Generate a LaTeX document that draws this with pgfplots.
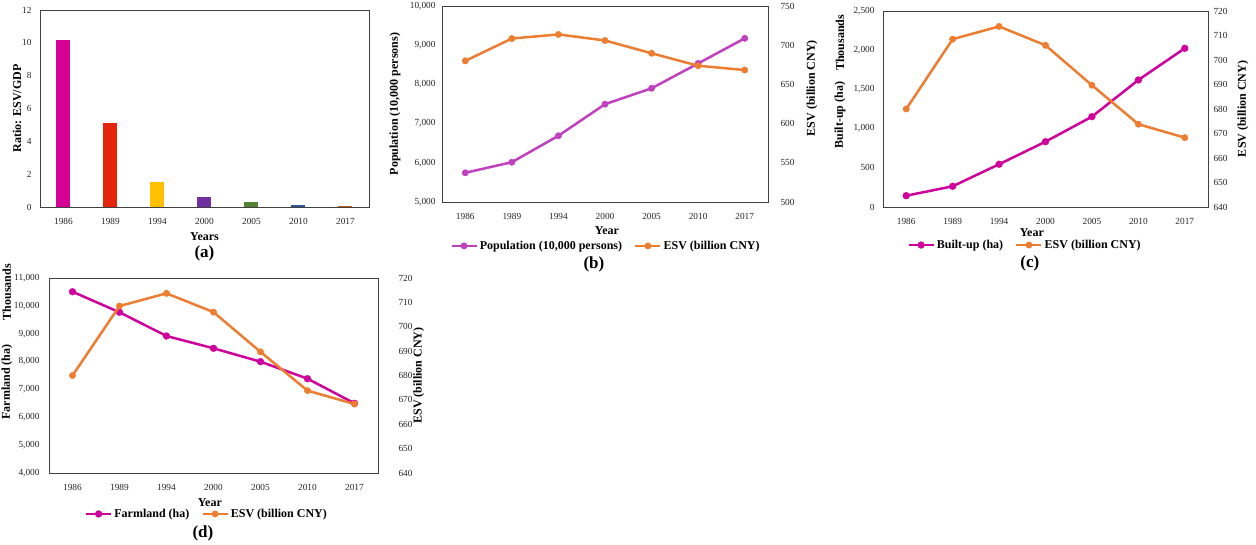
\documentclass[border=0pt]{standalone}
\usepackage{pgfplots}
\pgfplotsset{compat=1.18}
\usepackage{fontspec}
\setmainfont{Liberation Serif}
\definecolor{pop}{RGB}{192,64,192}
\definecolor{mag}{RGB}{207,0,155}
\definecolor{esv}{RGB}{237,125,49}
\definecolor{b1}{RGB}{214,0,150}
\definecolor{b2}{RGB}{230,36,12}
\definecolor{b3}{RGB}{255,192,0}
\definecolor{b4}{RGB}{112,48,160}
\definecolor{b5}{RGB}{84,130,53}
\definecolor{b6}{RGB}{47,85,151}
\definecolor{b7}{RGB}{197,90,17}
\definecolor{frame}{RGB}{64,64,64}
\tikzset{
  panel/.style={font=\bfseries\fontsize{17}{20}\selectfont},
  lab/.style={font=\bfseries\fontsize{12}{14}\selectfont},
}
\pgfplotsset{
  base/.style={
    scale only axis,
    xmin=-0.5, xmax=6.5,
    xtick={0,...,6},
    xticklabels={1986,1989,1994,2000,2005,2010,2017},
    major tick length=0pt,
    tick style={draw=none},
    axis line style={draw=frame, line width=0.8pt},
    ticklabel style={font=\fontsize{9.3}{10}\selectfont, text=black!85},
    xticklabel style={yshift=-8pt},
    /pgf/number format/assume math mode=true,
    scaled y ticks=false,
    label style={font=\bfseries\fontsize{12}{14}\selectfont},
    legend style={draw=none, fill=none, font=\bfseries\fontsize{12}{14}\selectfont,
      legend columns=2, /tikz/every even column/.append style={column sep=10pt},
      inner sep=0pt, row sep=0pt},
    legend image code/.code={\draw[mark repeat=2,mark phase=2,##1] plot coordinates {(0pt,0pt) (12.5pt,0pt) (25pt,0pt)};},
    clip=false,
  },
  sec/.style={base, axis y line*=right, axis x line=none},
  esvline/.style={color=esv, line width=2.5pt, mark=*, mark size=3.2pt, mark options={solid, fill=esv, draw=esv, line width=0.4pt}},
  popline/.style={color=pop, line width=2.5pt, mark=*, mark size=3.2pt, mark options={solid, fill=pop, draw=pop, line width=0.4pt}},
  magline/.style={color=mag, line width=2.5pt, mark=*, mark size=3.4pt, mark options={solid, fill=mag, draw=mag, line width=0.4pt}},
}
\begin{document}
\begin{tikzpicture}
\useasboundingbox (0,0) rectangle (1256pt,545pt);
\fill[white] (0,0) rectangle (1256pt,545pt);

% ---------------- (a)
\begin{axis}[base, at={(40pt,338pt)}, anchor=south west, width=329pt, height=197pt,
  ymin=0, ymax=12, ytick={0,2,...,12},
  yticklabel style={xshift=-5pt},
  ybar, bar width=14pt, bar shift=0pt,
  xlabel={Years}, xlabel style={at={(axis description cs:0.5,-0.152)}, anchor=center},
  ylabel={Ratio: ESV/GDP}, ylabel style={at={(axis description cs:-0.07,0.5)}, anchor=center}]
\addplot[fill=b1, draw=none] coordinates {(0,10.2)};
\addplot[fill=b2, draw=none] coordinates {(1,5.1)};
\addplot[fill=b3, draw=none] coordinates {(2,1.54)};
\addplot[fill=b4, draw=none] coordinates {(3,0.63)};
\addplot[fill=b5, draw=none] coordinates {(4,0.28)};
\addplot[fill=b6, draw=none] coordinates {(5,0.14)};
\addplot[fill=b7, draw=none] coordinates {(6,0.06)};
\node[panel] at (axis description cs:0.5,-0.2335) {(a)};
\end{axis}

% ---------------- (b)
\begin{axis}[base, at={(442pt,343pt)}, anchor=south west, width=326pt, height=196pt,
  ymin=5000, ymax=10000, ytick={5000,6000,...,10000},
  yticklabel style={xshift=-3pt},
  xlabel={Year}, xlabel style={at={(axis description cs:0.506,-0.148)}, anchor=center},
  ylabel={Population (10,000 persons)}, ylabel style={at={(axis description cs:-0.144,0.5)}, anchor=center}]
\addplot[popline] coordinates {(0,5745) (1,6015) (2,6690) (3,7495) (4,7900) (5,8535) (6,9175)};
\end{axis}
\begin{axis}[sec, at={(442pt,343pt)}, anchor=south west, width=326pt, height=196pt,
  ymin=500, ymax=750, ytick={500,550,...,750},
  yticklabel style={xshift=9pt},
  ylabel={ESV (billion CNY)}, ylabel style={at={(axis description cs:1.135,0.58)}, anchor=center, rotate=0},
  legend style={at={(axis description cs:0.503,-0.224)}, anchor=center}]
\addlegendimage{popline}
\addlegendentry{Population (10,000 persons)}
\addplot[esvline] coordinates {(0,680) (1,708.5) (2,713.7) (3,706) (4,689.7) (5,673.8) (6,668.3)};
\addlegendentry{ESV (billion CNY)}
\node[panel] at (axis description cs:0.466,-0.321) {(b)};
\end{axis}

% ---------------- (c)
\begin{axis}[base, at={(883pt,338pt)}, anchor=south west, width=325pt, height=196pt,
  ymin=0, ymax=2500, ytick={0,500,...,2500},
  yticklabel style={xshift=-5pt},
  xlabel={Year}, xlabel style={at={(axis description cs:0.458,-0.133)}, anchor=center},
  ylabel={Built-up (ha)}, ylabel style={at={(axis description cs:-0.132,0.469)}, anchor=center}]
\addplot[magline] coordinates {(0,144) (1,264) (2,545) (3,833) (4,1152) (5,1620) (6,2024)};
\node[lab, rotate=90] at (axis description cs:-0.132,0.837) {Thousands};
\end{axis}
\begin{axis}[sec, at={(883pt,338pt)}, anchor=south west, width=325pt, height=196pt,
  ymin=640, ymax=720, ytick={640,650,...,720},
  yticklabel style={xshift=2pt},
  ylabel={ESV (billion CNY)}, ylabel style={at={(axis description cs:1.108,0.5)}, anchor=center},
  legend style={at={(axis description cs:0.437,-0.194)}, anchor=center}]
\addlegendimage{magline}
\addlegendentry{Built-up (ha)}
\addplot[esvline] coordinates {(0,680) (1,708.5) (2,713.7) (3,706) (4,689.7) (5,673.8) (6,668.3)};
\addlegendentry{ESV (billion CNY)}
\node[panel] at (axis description cs:0.452,-0.286) {(c)};
\end{axis}

% ---------------- (d)
\begin{axis}[base, at={(49pt,72pt)}, anchor=south west, width=329pt, height=195pt,
  ymin=4000, ymax=11000, ytick={4000,5000,...,11000},
  yticklabel style={xshift=-6pt},
  xlabel={Year}, xlabel style={at={(axis description cs:0.489,-0.154)}, anchor=center},
  ylabel={Farmland (ha)}, ylabel style={at={(axis description cs:-0.128,0.467)}, anchor=center}]
\addplot[magline] coordinates {(0,10508) (1,9769) (2,8918) (3,8476) (4,7996) (5,7386) (6,6501)};
\node[lab, rotate=90] at (axis description cs:-0.128,0.928) {Thousands};
\end{axis}
\begin{axis}[sec, at={(49pt,72pt)}, anchor=south west, width=329pt, height=195pt,
  ymin=640, ymax=720, ytick={640,650,...,720},
  yticklabel style={xshift=17pt},
  ylabel={ESV (billion CNY)}, ylabel style={at={(axis description cs:1.124,0.5)}, anchor=center},
  legend style={at={(axis description cs:0.48,-0.21)}, anchor=center}]
\addlegendimage{magline}
\addlegendentry{Farmland (ha)}
\addplot[esvline] coordinates {(0,680) (1,708.5) (2,713.7) (3,706) (4,689.7) (5,673.8) (6,668.3)};
\addlegendentry{ESV (billion CNY)}
\node[panel] at (axis description cs:0.468,-0.308) {(d)};
\end{axis}
\end{tikzpicture}
\end{document}
